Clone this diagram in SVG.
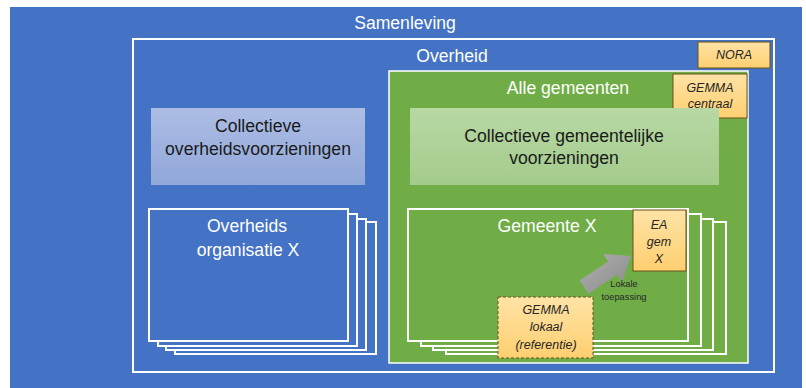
<svg xmlns="http://www.w3.org/2000/svg" width="806" height="388" viewBox="0 0 806 388">
<defs>
<linearGradient id="gOrange" x1="0" y1="0" x2="0" y2="1">
<stop offset="0" stop-color="#ffe3a6"/>
<stop offset="1" stop-color="#ffcf70"/>
</linearGradient>
<linearGradient id="gLBlue" x1="0" y1="0" x2="0" y2="1">
<stop offset="0" stop-color="#adbde4"/>
<stop offset="1" stop-color="#90a7d9"/>
</linearGradient>
<linearGradient id="gLGreen" x1="0" y1="0" x2="0" y2="1">
<stop offset="0" stop-color="#b8d8a4"/>
<stop offset="1" stop-color="#a3cb8b"/>
</linearGradient>
<linearGradient id="gGray" x1="0" y1="0" x2="1" y2="1">
<stop offset="0" stop-color="#b0b0b0"/>
<stop offset="1" stop-color="#8a8a8a"/>
</linearGradient>
<style>
text{font-family:"Liberation Sans","Noto Sans",sans-serif;text-anchor:middle}
.w{fill:#ffffff;font-size:17.6px}
.d{fill:#1a1a1a;font-size:17.6px}
.it{fill:#262626;font-size:12.5px;font-style:italic}
.sm{fill:#262626;font-size:9.3px}
.stk{stroke:#ffffff;stroke-width:2}
.ob{fill:url(#gOrange);stroke:#6b5318;stroke-width:1}
</style>
</defs>
<rect x="0" y="0" width="806" height="388" fill="#ffffff"/>
<g id="samenleving">
<rect x="10" y="7" width="792" height="381" fill="#4472c4"/>
<text class="w" x="405" y="29">Samenleving</text>
</g>
<g id="overheid">
<rect x="133" y="39" width="641" height="333" fill="none" stroke="#ffffff" stroke-width="2"/>
<text class="w" x="452" y="62">Overheid</text>
</g>
<g id="nora">
<rect class="ob" x="698" y="42" width="72" height="26"/>
<text class="it" x="734" y="59">NORA</text>
</g>
<g id="collectieve-overheid">
<rect x="151" y="108" width="214" height="77" fill="url(#gLBlue)"/>
<text class="d" x="258" y="132">Collectieve</text>
<text class="d" x="258" y="155">overheidsvoorzieningen</text>
</g>
<g id="overheids-organisatie">
<rect class="stk" x="175" y="222" width="201" height="132" fill="#4472c4"/>
<rect class="stk" x="166" y="219" width="200" height="131" fill="#4472c4"/>
<rect class="stk" x="158" y="214" width="199" height="132" fill="#4472c4"/>
<rect class="stk" x="149" y="209" width="199" height="132" fill="#4472c4"/>
<text class="w" x="247" y="232">Overheids</text>
<text class="w" x="248" y="256">organisatie X</text>
</g>
<g id="alle-gemeenten">
<rect x="389" y="71" width="359" height="292" fill="#70ad47" stroke="#ffffff" stroke-width="1.5"/>
<text class="w" x="568" y="94">Alle gemeenten</text>
</g>
<g id="gemma-centraal">
<rect class="ob" x="673" y="74" width="74" height="44"/>
<text class="it" x="710" y="92">GEMMA</text>
<text class="it" x="710" y="108">centraal</text>
</g>
<g id="collectieve-gemeente">
<rect x="410" y="108" width="309" height="77" fill="url(#gLGreen)"/>
<text class="d" x="564" y="142">Collectieve gemeentelijke</text>
<text class="d" x="564" y="164">voorzieningen</text>
</g>
<g id="gemeente-x">
<rect class="stk" x="446" y="222" width="280" height="132" fill="#70ad47"/>
<rect class="stk" x="433" y="219" width="280" height="131" fill="#70ad47"/>
<rect class="stk" x="421" y="214" width="280" height="132" fill="#70ad47"/>
<rect class="stk" x="408" y="209" width="280" height="132" fill="#70ad47"/>
<text class="w" x="547" y="232">Gemeente X</text>
</g>
<g id="ea-gem-x">
<rect class="ob" x="633" y="210" width="53" height="61"/>
<text class="it" x="659" y="229">EA</text>
<text class="it" x="659" y="246">gem</text>
<text class="it" x="659" y="263">X</text>
</g>
<g id="connectors">
<path d="M579.6,280.3 L608.2,261.4 L603.2,253.9 L631,256 L622.0,282.3 L617.0,274.8 L588.4,293.7 Z" fill="url(#gGray)"/>
<text class="sm" x="624" y="287">Lokale</text>
<text class="sm" x="624" y="300">toepassing</text>
</g>
<g id="gemma-lokaal">
<rect x="498" y="297" width="95" height="61" fill="url(#gOrange)" stroke="#6b5318" stroke-width="1" stroke-dasharray="3,2"/>
<text class="it" x="546" y="314">GEMMA</text>
<text class="it" x="546" y="331">lokaal</text>
<text class="it" x="546" y="349">(referentie)</text>
</g>
</svg>
